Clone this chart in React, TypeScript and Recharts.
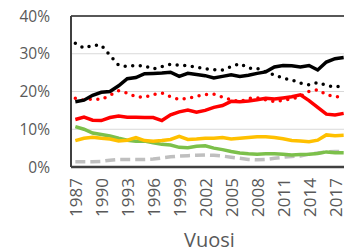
import React from 'react';
import { LineChart, Line, XAxis, YAxis, CartesianGrid, ReferenceLine } from 'recharts';

const years = [1987, 1988, 1989, 1990, 1991, 1992, 1993, 1994, 1995, 1996, 1997, 1998, 1999, 2000, 2001, 2002, 2003, 2004, 2005, 2006, 2007, 2008, 2009, 2010, 2011, 2012, 2013, 2014, 2015, 2016, 2017, 2018];
const blackSolid = [17.3, 17.7, 19.0, 19.8, 20.0, 21.5, 23.4, 23.7, 24.7, 24.8, 24.9, 25.1, 24.0, 24.8, 24.5, 24.2, 23.6, 24.0, 24.4, 24.0, 24.3, 24.8, 25.2, 26.5, 26.9, 26.8, 26.5, 26.9, 25.7, 27.8, 28.7, 29.0];
const blackDotted = [32.8, 31.5, 32.2, 32.3, 29.6, 27.0, 26.6, 26.9, 26.8, 26.0, 26.6, 27.2, 27.0, 26.8, 26.5, 26.0, 25.8, 25.7, 26.6, 27.4, 26.2, 26.1, 25.2, 24.4, 23.5, 23.1, 22.2, 21.8, 22.4, 21.6, 21.2, 21.5];
const redDotted = [18.2, 17.7, 18.0, 17.9, 19.0, 20.2, 19.6, 18.6, 18.5, 19.2, 19.6, 18.6, 17.9, 18.2, 18.7, 19.2, 19.3, 18.5, 17.8, 17.3, 18.2, 18.3, 17.8, 17.3, 17.7, 18.0, 18.7, 20.0, 20.5, 19.2, 18.6, 18.6];
const redSolid = [12.6, 13.2, 12.4, 12.3, 13.1, 13.5, 13.2, 13.2, 13.1, 13.1, 12.3, 13.8, 14.6, 15.1, 14.5, 15.0, 15.8, 16.3, 17.4, 17.3, 17.5, 17.8, 18.2, 18.0, 18.3, 18.6, 19.1, 17.6, 15.8, 14.0, 13.8, 14.2];
const yellow = [7.0, 7.6, 7.9, 7.6, 7.4, 6.9, 7.1, 7.8, 7.0, 6.8, 7.0, 7.3, 8.1, 7.3, 7.4, 7.6, 7.6, 7.8, 7.4, 7.6, 7.8, 8.0, 8.0, 7.8, 7.5, 7.0, 6.9, 6.7, 7.1, 8.5, 8.3, 8.4];
const green = [10.7, 10.0, 9.0, 8.6, 8.2, 7.6, 7.1, 6.8, 6.9, 6.4, 6.0, 5.8, 5.2, 5.1, 5.5, 5.6, 5.0, 4.6, 4.1, 3.7, 3.5, 3.4, 3.5, 3.5, 3.4, 3.2, 3.3, 3.4, 3.6, 4.0, 3.8, 3.8];
const grey = [1.4, 1.4, 1.4, 1.5, 1.8, 2.0, 2.0, 2.0, 2.0, 2.1, 2.4, 2.7, 2.9, 3.0, 3.1, 3.2, 3.1, 2.9, 2.6, 2.3, 2.0, 1.9, 2.0, 2.3, 2.6, 2.8, 2.9, 3.4, 3.7, 4.0, 4.1, 4.1];
const xTicks = [1987, 1990, 1993, 1996, 1999, 2002, 2005, 2008, 2011, 2014, 2017];
const yTicks = [0, 10, 20, 30, 40];

const data = years.map((year, i) => ({
  year,
  blackSolid: blackSolid[i],
  blackDotted: blackDotted[i],
  redDotted: redDotted[i],
  redSolid: redSolid[i],
  yellow: yellow[i],
  green: green[i],
  grey: grey[i],
}));

const FONT = '"Open Sans", sans-serif';

export default function App() {
  return (
    <div style={{ position: 'absolute', left: 0, top: 0, width: 344, height: 252, overflow: 'hidden', background: '#fff' }}>
      <LineChart width={350} height={252} data={data} margin={{ top: 16, right: 2, bottom: 0, left: 0 }}>
        <CartesianGrid vertical={false} stroke="#d9d9d9" strokeWidth={1} />
        <XAxis
          dataKey="year"
          type="number"
          domain={[1986.5, 2018.5]}
          ticks={xTicks}
          interval={0}
          height={85}
          tickLine={false}
          tickSize={6}
          tickMargin={5}
          axisLine={{ stroke: '#404040', strokeWidth: 2.5 }}
          tick={{ angle: -90, textAnchor: 'end', dx: -5, fontFamily: FONT, fontSize: 17, fill: '#595959' } as any}
          label={{ value: 'Vuosi', position: 'insideBottom', offset: 5, fontFamily: FONT, fontSize: 20, fill: '#595959' }}
        />
        <YAxis
          domain={[0, 40]}
          ticks={yTicks}
          interval={0}
          width={71}
          tickLine={false}
          tickSize={0}
          tickMargin={21}
          tickFormatter={(v: number) => `${v}%`}
          axisLine={{ stroke: '#404040', strokeWidth: 2 }}
          tick={{ fontFamily: FONT, fontSize: 15.5, fill: '#595959' }}
        />
        <ReferenceLine y={40} stroke="#262626" strokeWidth={1.5} />
        <Line dataKey="grey" stroke="#bfbfbf" strokeWidth={3.5} strokeDasharray="10 5" dot={false} isAnimationActive={false} />
        <Line dataKey="green" stroke="#7cc04b" strokeWidth={3.5} dot={false} isAnimationActive={false} />
        <Line dataKey="yellow" stroke="#ffc000" strokeWidth={3.5} dot={false} isAnimationActive={false} />
        <Line dataKey="redDotted" stroke="#ff0000" strokeWidth={3.5} strokeDasharray="0 7.6" strokeLinecap="round" dot={false} isAnimationActive={false} />
        <Line dataKey="redSolid" stroke="#ff0000" strokeWidth={3.5} dot={false} isAnimationActive={false} />
        <Line dataKey="blackDotted" stroke="#000000" strokeWidth={3.5} strokeDasharray="0 7.6" strokeLinecap="round" dot={false} isAnimationActive={false} />
        <Line dataKey="blackSolid" stroke="#000000" strokeWidth={3.5} dot={false} isAnimationActive={false} />
      </LineChart>
    </div>
  );
}
